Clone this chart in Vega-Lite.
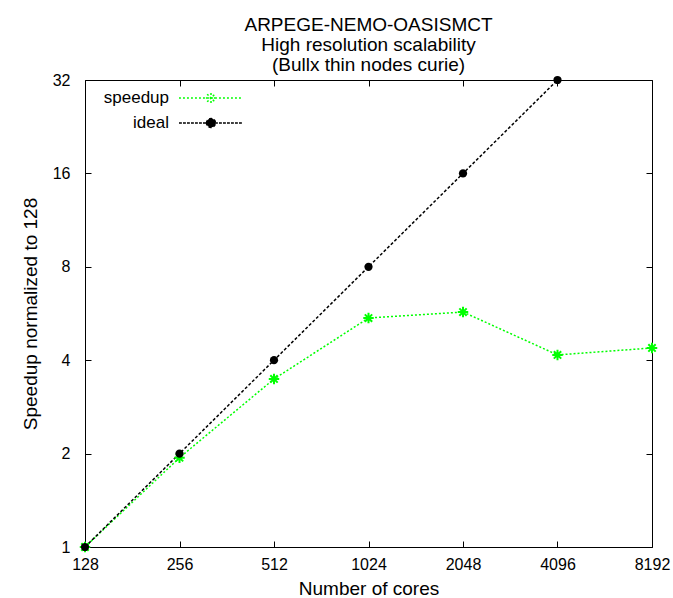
{
  "$schema": "https://vega.github.io/schema/vega-lite/v6.json",
  "width": 567,
  "height": 467,
  "autosize": {"type": "none"},
  "padding": {"left": 85, "top": 80, "right": 21, "bottom": 51},
  "background": "white",
  "config": {
    "font": "Liberation Sans",
    "view": {"stroke": "black", "strokeWidth": 1},
    "axis": {
      "grid": false,
      "domain": false,
      "tickColor": "black",
      "tickSize": -6,
      "labelFont": "Liberation Sans",
      "labelFontSize": 16,
      "labelColor": "black",
      "titleFont": "Liberation Sans",
      "titleFontSize": 19,
      "titleFontWeight": "normal",
      "titleColor": "black"
    }
  },
  "title": {
    "text": ["ARPEGE-NEMO-OASISMCT", "High resolution scalability", "(Bullx thin nodes curie)"],
    "font": "Liberation Sans",
    "fontSize": 19,
    "fontWeight": "normal",
    "color": "black",
    "anchor": "middle",
    "frame": "group",
    "offset": -3,
    "lineHeight": 20
  },
  "data": {
    "values": [
      {"cores": 128, "value": 1, "series": "speedup"},
      {"cores": 256, "value": 1.94, "series": "speedup"},
      {"cores": 512, "value": 3.48, "series": "speedup"},
      {"cores": 1024, "value": 5.47, "series": "speedup"},
      {"cores": 2048, "value": 5.72, "series": "speedup"},
      {"cores": 4096, "value": 4.16, "series": "speedup"},
      {"cores": 8192, "value": 4.38, "series": "speedup"},
      {"cores": 128, "value": 1, "series": "ideal"},
      {"cores": 256, "value": 2, "series": "ideal"},
      {"cores": 512, "value": 4, "series": "ideal"},
      {"cores": 1024, "value": 8, "series": "ideal"},
      {"cores": 2048, "value": 16, "series": "ideal"},
      {"cores": 4096, "value": 32, "series": "ideal"}
    ]
  },
  "layer": [
    {
      "mark": {"type": "line", "strokeWidth": 1.5, "clip": false},
      "encoding": {
        "x": {
          "field": "cores", "type": "quantitative",
          "scale": {"type": "log", "base": 2, "domain": [128, 8192], "nice": false},
          "axis": {"orient": "bottom", "values": [128, 256, 512, 1024, 2048, 4096, 8192], "format": "d", "labelPadding": 15, "title": "Number of cores", "titlePadding": 7, "labelFlush": false}
        },
        "y": {
          "field": "value", "type": "quantitative",
          "scale": {"type": "log", "base": 2, "domain": [1, 32], "nice": false},
          "axis": {"orient": "left", "values": [1, 2, 4, 8, 16, 32], "format": "d", "labelPadding": 21, "title": "Speedup normalized to 128", "titlePadding": 12, "labelFlush": false}
        },
        "color": {
          "field": "series", "type": "nominal",
          "scale": {"domain": ["speedup", "ideal"], "range": ["#00ff00", "#000000"]},
          "legend": {
            "orient": "none",
            "legendX": 93,
            "legendY": 8,
            "title": null,
            "padding": 0,
            "labelFont": "Liberation Sans",
            "labelFontSize": 17,
            "labelColor": "black",
            "labelAlign": "right",
            "labelOffset": -75,
            "symbolSize": 4096,
            "symbolStrokeWidth": 1.5,
            "rowPadding": 6,
            "encode": {
              "symbols": {
                "update": {
                  "y": {"value": 10},
                  "shape": {"signal": "datum.value === 'speedup' ? 'M-1,0h0.06M-0.875,0h0.06M-0.75,0h0.06M-0.625,0h0.06M-0.5,0h0.06M-0.375,0h0.06M-0.25,0h0.06M-0.125,0h0.06M0,0h0.06M0.125,0h0.06M0.25,0h0.06M0.375,0h0.06M0.5,0h0.06M0.625,0h0.06M0.75,0h0.06M0.875,0h0.06M-0.16,0H0.16M0,-0.16V0.16M-0.12,-0.12L0.12,0.12M-0.12,0.12L0.12,-0.12' : 'M-1,0h0.09M-0.875,0h0.09M-0.75,0h0.09M-0.625,0h0.09M-0.5,0h0.09M-0.375,0h0.09M-0.25,0h0.09M-0.125,0h0.09M0.125,0h0.09M0.25,0h0.09M0.375,0h0.09M0.5,0h0.09M0.625,0h0.09M0.75,0h0.09M0.875,0h0.09M-0.14,0A0.14,0.14 0 1,1 0.14,0A0.14,0.14 0 1,1 -0.14,0Z'"},
                  "fill": {"signal": "datum.value === 'speedup' ? 'transparent' : 'black'"},
                  "strokeDash": {"value": []},
                  "opacity": {"value": 1}
                }
              },
              "labels": {
                "update": {
                  "y": {"value": 10}
                }
              }
            }
          }
        },
        "strokeDash": {
          "field": "series", "type": "nominal",
          "scale": {"domain": ["speedup", "ideal"], "range": [[2, 2], [3, 2]]},
          "legend": null
        }
      }
    },
    {
      "transform": [{"filter": "datum.series === 'speedup'"}],
      "mark": {"type": "point", "shape": "M-1,0H1M0,-1V1M-0.7,-0.7L0.7,0.7M-0.7,0.7L0.7,-0.7", "filled": false, "stroke": "#00ff00", "strokeWidth": 2, "size": 110, "opacity": 1, "clip": false},
      "encoding": {
        "x": {"field": "cores", "type": "quantitative", "axis": {"orient": "top", "values": [128, 256, 512, 1024, 2048, 4096, 8192], "labels": false, "title": null}},
        "y": {"field": "value", "type": "quantitative", "axis": {"orient": "right", "values": [1, 2, 4, 8, 16, 32], "labels": false, "title": null}}
      }
    },
    {
      "transform": [{"filter": "datum.series === 'ideal'"}],
      "mark": {"type": "point", "shape": "circle", "filled": true, "color": "black", "size": 68, "opacity": 1, "clip": false},
      "encoding": {
        "x": {"field": "cores", "type": "quantitative", "axis": null},
        "y": {"field": "value", "type": "quantitative", "axis": null}
      }
    }
  ],
  "resolve": {"axis": {"x": "independent", "y": "independent"}}
}
